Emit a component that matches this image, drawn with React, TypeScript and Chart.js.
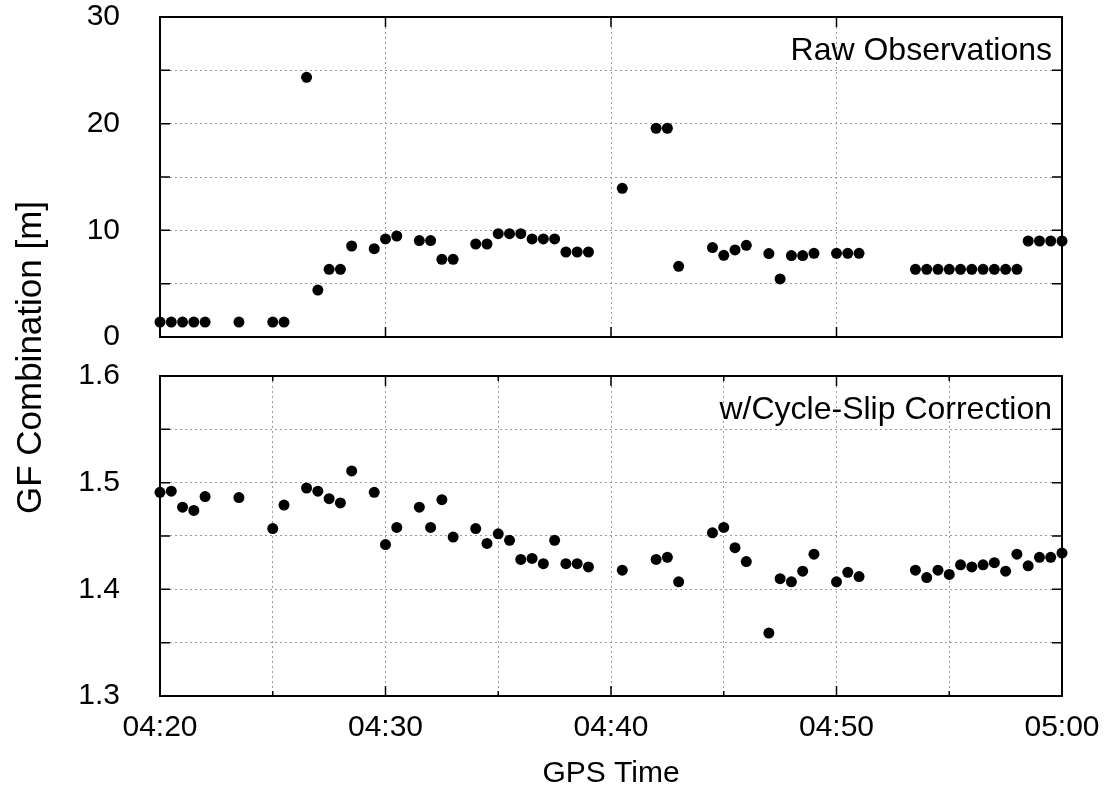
import React, { useEffect, useRef } from 'react';
import { Chart, registerables } from 'chart.js';

Chart.register(...registerables);

// epochs, minutes after 04:00 GPS time
const epochMinutes = [
  20, 20.5, 21, 21.5, 22, 23.5, 25, 25.5, 26.5, 27, 27.5, 28, 28.5, 29.5, 30, 30.5,
  31.5, 32, 32.5, 33, 34, 34.5, 35, 35.5, 36, 36.5, 37, 37.5, 38, 38.5, 39, 40.5,
  42, 42.5, 43, 44.5, 45, 45.5, 46, 47, 47.5, 48, 48.5, 49, 50, 50.5, 51,
  53.5, 54, 54.5, 55, 55.5, 56, 56.5, 57, 57.5, 58, 58.5, 59, 59.5, 60,
];

// GF combination, raw observations [m]
const rawObservations = [
  1.4, 1.4, 1.4, 1.4, 1.4, 1.4, 1.4, 1.4, 24.35, 4.4, 6.35, 6.35, 8.53, 8.28, 9.19, 9.47,
  9.04, 9.04, 7.28, 7.28, 8.72, 8.72, 9.69, 9.69, 9.69, 9.19, 9.19, 9.19, 7.97, 7.97, 7.97, 13.94,
  19.57, 19.57, 6.63, 8.38, 7.66, 8.16, 8.6, 7.82, 5.44, 7.63, 7.63, 7.85, 7.85, 7.85, 7.85,
  6.35, 6.35, 6.35, 6.35, 6.35, 6.35, 6.35, 6.35, 6.35, 6.35, 9.0, 9.0, 9.0, 9.0,
];

// GF combination with cycle-slip correction [m]
const slipCorrected = [
  1.491, 1.492, 1.477, 1.474, 1.487, 1.486, 1.457, 1.479, 1.495, 1.492, 1.485, 1.481, 1.511, 1.491, 1.442, 1.458,
  1.477, 1.458, 1.484, 1.449, 1.457, 1.443, 1.452, 1.446, 1.428, 1.429, 1.424, 1.446, 1.424, 1.424, 1.421, 1.418,
  1.428, 1.43, 1.407, 1.453, 1.458, 1.439, 1.426, 1.359, 1.41, 1.407, 1.417, 1.433, 1.407, 1.416, 1.412,
  1.418, 1.411, 1.418, 1.414, 1.423, 1.421, 1.423, 1.425, 1.417, 1.433, 1.422, 1.43, 1.43, 1.434,
];

const xMajorTicks = [20, 30, 40, 50, 60];
const xMinorTicks = [25, 35, 45, 55];
const rawYTicks = [0, 5, 10, 15, 20, 25, 30];
const corrYTicks = [1.3, 1.35, 1.4, 1.45, 1.5, 1.55, 1.6];

const rawLabel = 'Raw Observations';
const corrLabel = 'w/Cycle-Slip Correction';
const yTitle = 'GF Combination [m]';
const xTitle = 'GPS Time';

const W = 1112;
const H = 792;
const FONT = '"Liberation Sans", Arial, Helvetica, sans-serif';
const GRID = '#9a9a9a';

const pad2 = (n: number) => String(n).padStart(2, '0');
const fmtTime = (m: number) => `${pad2(4 + Math.floor(m / 60))}:${pad2(Math.round(m % 60))}`;

const framePlugin = {
  id: 'frame',
  beforeDatasetsDraw(chart: any, _args: any, o: any) {
    const { ctx, chartArea: a, scales } = chart;
    const x = scales.x;
    const y = scales.y;
    ctx.save();
    ctx.strokeStyle = '#000';
    ctx.lineWidth = 2;
    ctx.strokeRect(a.left, a.top, a.right - a.left, a.bottom - a.top);
    ctx.lineWidth = 1.5;
    ctx.beginPath();
    const xt = (vals: number[], len: number) => {
      vals.forEach((v) => {
        const px = x.getPixelForValue(v);
        ctx.moveTo(px, a.bottom);
        ctx.lineTo(px, a.bottom - len);
        ctx.moveTo(px, a.top);
        ctx.lineTo(px, a.top + len);
      });
    };
    xt(o.xMajor || [], 10);
    xt(o.xMinor || [], 5);
    (o.yTicks || []).forEach((v: number) => {
      const py = y.getPixelForValue(v);
      ctx.moveTo(a.left, py);
      ctx.lineTo(a.left + 10, py);
      ctx.moveTo(a.right, py);
      ctx.lineTo(a.right - 10, py);
    });
    ctx.stroke();

    ctx.fillStyle = '#000';
    ctx.font = `32px ${FONT}`;
    ctx.textAlign = 'right';
    ctx.textBaseline = 'alphabetic';
    ctx.fillText(o.label, a.right - 10, a.top + 43);

    if (o.yTitle) {
      ctx.translate(41, 357.5);
      ctx.rotate(-Math.PI / 2);
      ctx.font = `35px ${FONT}`;
      ctx.textAlign = 'center';
      ctx.fillText(o.yTitle, 0, 0);
    }
    ctx.restore();
  },
};

function makeConfig(panel: 'raw' | 'corr'): any {
  const isRaw = panel === 'raw';
  const values = isRaw ? rawObservations : slipCorrected;
  const tickFont = { family: FONT, size: 30 };
  return {
    type: 'scatter',
    data: {
      datasets: [
        {
          data: epochMinutes.map((m, i) => ({ x: m, y: values[i] })),
          backgroundColor: '#000',
          borderWidth: 0,
          pointRadius: 5.5,
          pointHoverRadius: 5.5,
          showLine: false,
          clip: false,
        },
      ],
    },
    options: {
      responsive: false,
      maintainAspectRatio: false,
      animation: false,
      devicePixelRatio: 1,
      events: [],
      layout: {
        padding: isRaw
          ? { top: 17, right: 50, bottom: H - 337, left: 0 }
          : { top: 376, right: 50, bottom: 0, left: 0 },
      },
      plugins: {
        legend: { display: false },
        tooltip: { enabled: false },
        frame: isRaw
          ? { xMajor: xMajorTicks, yTicks: rawYTicks, label: rawLabel, yTitle }
          : { xMajor: xMajorTicks, xMinor: xMinorTicks, yTicks: corrYTicks, label: corrLabel },
      },
      scales: {
        x: {
          type: 'linear',
          min: 20,
          max: 60,
          afterFit: (s: any) => {
            s.height = isRaw ? 0 : 96;
            s.paddingLeft = 0;
            s.paddingRight = 0;
          },
          grid: { display: true, color: GRID, lineWidth: 1, drawTicks: false },
          border: { display: false, dash: [2, 3] },
          ticks: {
            display: !isRaw,
            stepSize: isRaw ? 10 : 5,
            autoSkip: false,
            maxRotation: 0,
            padding: 14,
            color: '#000',
            font: tickFont,
            callback: (v: number) => (Math.round(v) % 10 === 0 ? fmtTime(v) : ''),
          },
          title: {
            display: !isRaw,
            text: xTitle,
            color: '#000',
            font: { family: FONT, size: 30 },
            padding: { top: 0, bottom: 0 },
          },
        },
        y: {
          type: 'linear',
          min: isRaw ? 0 : 1.3,
          max: isRaw ? 30 : 1.6,
          afterFit: (s: any) => {
            s.width = 160;
            s.paddingTop = 0;
            s.paddingBottom = 0;
          },
          grid: { display: true, color: GRID, lineWidth: 1, drawTicks: false },
          border: { display: false, dash: [2, 3] },
          ticks: {
            stepSize: isRaw ? 5 : 0.05,
            autoSkip: false,
            padding: 40,
            color: '#000',
            font: tickFont,
            callback: (v: number) => {
              if (isRaw) return Math.round(v) % 10 === 0 ? String(Math.round(v)) : '';
              const r = Math.round(v * 100);
              return r % 10 === 0 ? (r / 100).toFixed(1) : '';
            },
          },
        },
      },
    },
    plugins: [framePlugin],
  };
}

export default function App() {
  const topRef = useRef<HTMLCanvasElement>(null);
  const botRef = useRef<HTMLCanvasElement>(null);

  useEffect(() => {
    const c1 = new Chart(topRef.current as HTMLCanvasElement, makeConfig('raw'));
    const c2 = new Chart(botRef.current as HTMLCanvasElement, makeConfig('corr'));
    return () => {
      c1.destroy();
      c2.destroy();
    };
  }, []);

  const canvasStyle: React.CSSProperties = {
    position: 'absolute',
    left: 0,
    top: 0,
    width: W,
    height: H,
  };

  return (
    <div style={{ position: 'absolute', left: 0, top: 0, width: W, height: H, background: '#fff' }}>
      <canvas ref={topRef} width={W} height={H} style={canvasStyle} />
      <canvas ref={botRef} width={W} height={H} style={canvasStyle} />
    </div>
  );
}
